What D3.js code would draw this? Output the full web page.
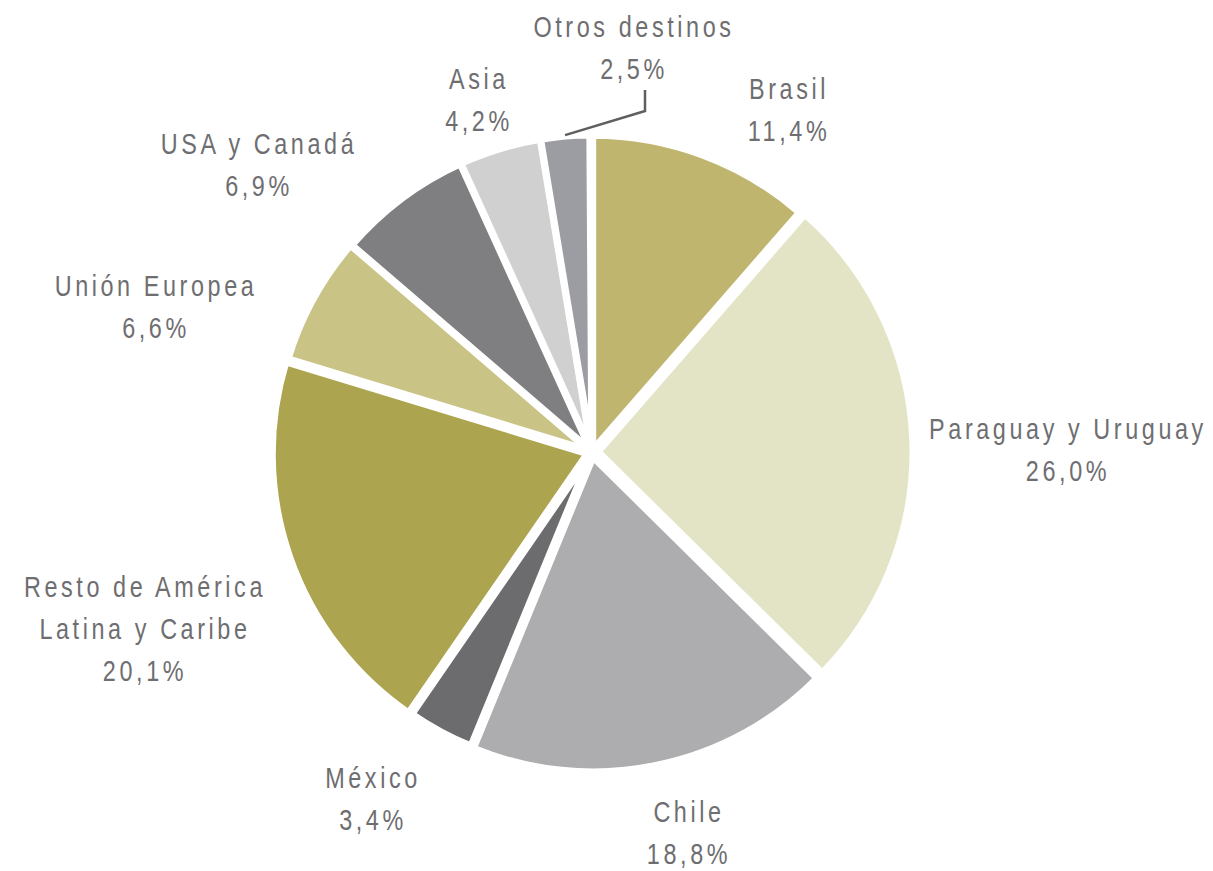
<!DOCTYPE html>
<html>
<head>
<meta charset="utf-8">
<script src="https://cdn.jsdelivr.net/npm/d3@7"></script>
<style>
  html, body { margin: 0; padding: 0; background: #ffffff; }
  svg { display: block; }
  .lbl { font-family: "Liberation Sans", Arial, sans-serif; fill: #6e6e71; letter-spacing: 4.6px; }
</style>
</head>
<body>
<svg id="chart" width="1213" height="871"></svg>
<script>
// ---- data ----
const categories = ["Brasil", "Paraguay y Uruguay", "Chile", "México", "Resto de América Latina y Caribe", "Unión Europea", "USA y Canadá", "Asia", "Otros destinos"];
const shares = [11.4, 26.0, 18.8, 3.4, 20.1, 6.6, 6.9, 4.2, 2.5];
const valueLabels = ["11,4%", "26,0%", "18,8%", "3,4%", "20,1%", "6,6%", "6,9%", "4,2%", "2,5%"];
const nameLines = [["Brasil"], ["Paraguay y Uruguay"], ["Chile"], ["México"], ["Resto de América", "Latina y Caribe"], ["Unión Europea"], ["USA y Canadá"], ["Asia"], ["Otros destinos"]];

// ---- styles / layout ----
const colors = ["#bfb56f", "#e3e4c5", "#adadb0", "#6c6c6f", "#ada44f", "#c9c385", "#7f7f81", "#d0d0d1", "#9c9da2"];
const explode = [2, 6, 5, 3, 5, 3, 2, 2, 2];
const labelPos = [[789, 99], [1068, 439], [689, 822], [373, 788], [145, 597], [156, 296], [259, 154], [479, 89], [634, 37]];
const cx = 592, cy = 452, R = 315;
const lineH = 42;
const sx = 0.78;

const svg = d3.select("#chart");
const g = svg.append("g").attr("transform", `translate(${cx},${cy})`);

const pie = d3.pie().sort(null).value(d => d).startAngle(0).endAngle(2 * Math.PI * d3.sum(shares) / 100);
const arcs = pie(shares);
const arc = d3.arc().innerRadius(0).outerRadius(R);

g.selectAll("path.slice")
  .data(arcs)
  .join("path")
  .attr("class", "slice")
  .attr("d", arc)
  .attr("fill", (d, i) => colors[i])
  .attr("stroke", "#ffffff")
  .attr("stroke-width", 7)
  .attr("stroke-linejoin", "miter")
  .attr("transform", (d, i) => {
    const a = (d.startAngle + d.endAngle) / 2;
    return `translate(${explode[i] * Math.sin(a)},${-explode[i] * Math.cos(a)})`;
  });

// labels
categories.forEach((c, i) => {
  const [x, y] = labelPos[i];
  const lines = nameLines[i].concat([valueLabels[i]]);
  const t = svg.append("text").attr("class", "lbl").attr("text-anchor", "middle").attr("font-size", 30)
    .attr("transform", `translate(${x},${y}) scale(${sx},1)`);
  lines.forEach((ln, k) => {
    t.append("tspan").attr("x", 0).attr("y", k * lineH).text(ln);
  });
});

// leader line for "Otros destinos"
const last = arcs[arcs.length - 1];
const la = (last.startAngle + last.endAngle) / 2;
const ex = cx + (R + 3) * Math.sin(la), ey = cy - (R + 3) * Math.cos(la);
const lx = 645;
svg.append("path")
  .attr("d", `M${lx},${labelPos[8][1] + lineH + 11} L${lx},${labelPos[8][1] + lineH + 32} L${ex},${ey}`)
  .attr("fill", "none")
  .attr("stroke", "#5f5f62")
  .attr("stroke-width", 2.5);
</script>
</body>
</html>
